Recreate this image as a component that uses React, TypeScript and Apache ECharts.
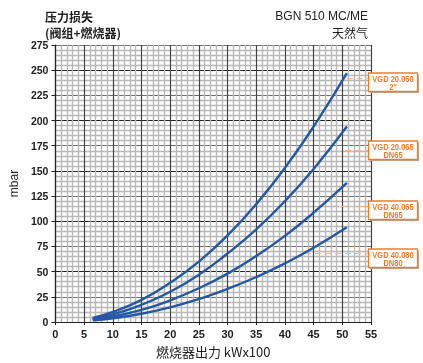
import React, { useEffect, useRef } from "react";
import * as echarts from "echarts";

const xValues = [6.5, 10, 15, 20, 25, 30, 35, 40, 45, 50.8];
const vgd20050 = [4, 10, 22, 39, 60, 86, 117, 153, 194, 247];
const vgd20065 = [3.2, 7.5, 17, 30, 47, 68, 92, 120, 152, 194];
const vgd40065 = [2.5, 5.4, 12, 21.5, 33.5, 48, 65.5, 85.5, 108.5, 138];
const vgd40080 = [1.8, 3.7, 8.2, 14.6, 22.8, 32.8, 44.6, 58.2, 73.7, 94];

const seriesNames = ["VGD 20.050", "VGD 20.065", "VGD 40.065", "VGD 40.080"];
const seriesSub = ['2"', "DN65", "DN65", "DN80"];
const seriesValues = [vgd20050, vgd20065, vgd40065, vgd40080];
// reference dashed leader lines: [startX, y]
const leaderLines: [number, number][] = [
  [50.8, 241.7],
  [50.5, 171],
  [49.5, 114.5],
  [43.5, 67.8],
];

const FONT = "'Liberation Sans', 'Noto Sans CJK SC', sans-serif";
const CJK = "'Noto Sans CJK SC', 'Liberation Sans', sans-serif";
const ORANGE = "#f07c28";

export default function App() {
  const ref = useRef<HTMLDivElement>(null);
  useEffect(() => {
    if (!ref.current) return;
    const chart = echarts.init(ref.current, null, { renderer: "svg" });
    const boxTops = [73, 141, 201, 249];
    const graphics: any[] = [];
    boxTops.forEach((t, i) => {
      graphics.push({
        type: "rect",
        shape: { x: 370, y: t + 1.5, width: 49, height: 18.5 },
        style: { fill: "#c9a58a" },
        z: 100,
        silent: true,
      });
      graphics.push({
        type: "rect",
        shape: { x: 368.5, y: t, width: 49, height: 18.5 },
        style: { fill: "#fff", stroke: ORANGE, lineWidth: 1.3 },
        z: 101,
        silent: true,
      });
      [seriesNames[i], seriesSub[i]].forEach((txt, k) => {
        graphics.push({
          type: "text",
          x: 393,
          y: t + 5.2 + k * 8.6,
          scaleX: 0.8,
          style: {
            text: txt,
            fill: ORANGE,
            font: `bold 9.4px ${FONT}`,
            align: "center",
            verticalAlign: "middle",
          },
          z: 102,
          silent: true,
        });
      });
    });
    graphics.push(
      {
        type: "text",
        left: 45,
        top: 10,
        style: { text: "压力损失", fill: "#222", font: `bold 12px ${CJK}` },
      },
      {
        type: "text",
        left: 45,
        top: 26,
        style: { text: "(阀组+燃烧器)", fill: "#222", font: `bold 12px ${CJK}` },
      },
      {
        type: "text",
        right: 55,
        top: 10,
        style: { text: "BGN 510 MC/ME", fill: "#222", font: `12px ${FONT}`, align: "right" },
      },
      {
        type: "text",
        right: 55,
        top: 26,
        style: { text: "天然气", fill: "#222", font: `12px ${CJK}`, align: "right" },
      }
    );

    const curveSeries = seriesValues.map((vals, i) => ({
      name: seriesNames[i],
      type: "line",
      smooth: true,
      symbol: "none",
      data: xValues.map((x, j) => [x, vals[j]]),
      lineStyle: { color: "#2557a7", width: 2.4 },
      z: 10,
    }));

    chart.setOption({
      animation: false,
      grid: { left: 47, right: 52, top: 45, bottom: 37 },
      graphic: graphics,
      xAxis: {
        type: "value",
        min: 0,
        max: 55,
        interval: 5,
        name: "燃烧器出力 kWx100",
        nameLocation: "middle",
        nameGap: 23,
        nameTextStyle: { fontFamily: CJK, fontSize: 13, color: "#222" },
        axisLine: { show: true, lineStyle: { color: "#222", width: 1.2 } },
        axisTick: { show: true, length: 3, lineStyle: { color: "#222" } },
        axisLabel: { fontFamily: FONT, fontWeight: "bold", fontSize: 11, color: "#222", margin: 6 },
        splitLine: { show: true, lineStyle: { color: "#444", width: 1.2 } },
        minorTick: { show: true, splitNumber: 5, length: 0 },
        minorSplitLine: { show: true, lineStyle: { color: "#b9b9b9", width: 1.4 } },
      },
      yAxis: {
        type: "value",
        min: 0,
        max: 275,
        interval: 25,
        name: "mbar",
        nameLocation: "middle",
        nameGap: 32,
        nameRotate: 90,
        nameTextStyle: { fontFamily: FONT, fontSize: 12, color: "#222" },
        axisLine: { show: true, lineStyle: { color: "#222", width: 1.2 } },
        axisTick: { show: true, length: 4, lineStyle: { color: "#222" } },
        axisLabel: { fontFamily: FONT, fontWeight: "bold", fontSize: 10.5, color: "#222", margin: 7 },
        splitLine: { show: true, lineStyle: { color: ["#222", "#707070"], width: 1.2 } },
        minorTick: { show: true, splitNumber: 5, length: 0 },
        minorSplitLine: { show: true, lineStyle: { color: "#b9b9b9", width: 1.4 } },
      },
      series: [
        ...curveSeries,
        {
          type: "line",
          data: [],
          silent: true,
          markLine: {
            silent: true,
            symbol: "none",
            label: { show: false },
            lineStyle: { color: "#f5b68a", type: [6, 4], width: 1.2 },
            data: leaderLines.map(([x0, y]) => [{ coord: [x0, y] }, { coord: [55, y] }]),
          },
        },
      ],
    });
    return () => chart.dispose();
  }, []);
  return (
    <div
      ref={ref}
      style={{ position: "fixed", left: 0, top: 0, width: 423, height: 363 }}
    />
  );
}
